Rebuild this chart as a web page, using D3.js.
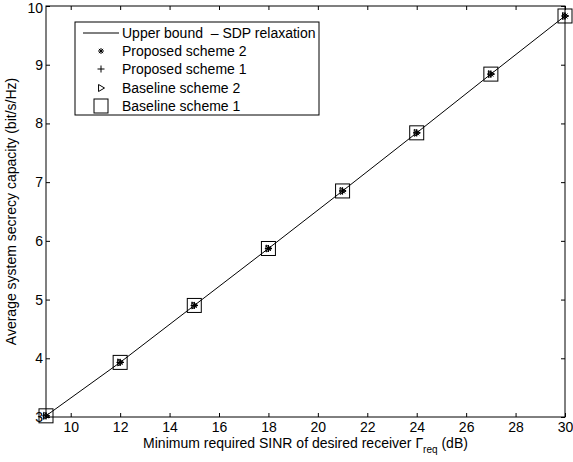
<!DOCTYPE html>
<html lang="en">
<head>
	<meta charset="UTF-8">
	<title>secrecy capacity</title>
	<script src="https://cdn.jsdelivr.net/npm/d3@7/dist/d3.min.js"></script>
	<style>
		body { margin: 0; background: #fff; }
		text { font-family: "Liberation Sans", Arial, sans-serif; font-size: 14px; fill: #000; white-space: pre; }
	</style>
</head>
<body>
	<script>
	// SINR requirement (dB) and capacity values
	var sinr = [9, 12, 15, 18, 21, 24, 27, 30];
	var upperBound = [3.02, 3.93, 4.90, 5.87, 6.85, 7.84, 8.84, 9.83];
	var proposed2 = [3.02, 3.93, 4.90, 5.87, 6.85, 7.84, 8.84, 9.83];
	var proposed1 = [3.02, 3.93, 4.90, 5.87, 6.85, 7.84, 8.84, 9.83];
	var baseline2 = [3.02, 3.93, 4.90, 5.87, 6.85, 7.84, 8.84, 9.83];
	var baseline1 = [3.02, 3.93, 4.90, 5.87, 6.85, 7.84, 8.84, 9.83];
	var xTicks = [10, 12, 14, 16, 18, 20, 22, 24, 26, 28, 30];
	var yTicks = [3, 4, 5, 6, 7, 8, 9, 10];
	var legendLabels = ['Upper bound  \u2013 SDP relaxation', 'Proposed scheme 2', 'Proposed scheme 1', 'Baseline scheme 2', 'Baseline scheme 1'];

	var width = 573,
		height = 462;

	var plot = { left: 46, right: 565, top: 6, bottom: 417 };

	var svg = d3.select('body').append('svg')
		.attr('width', width)
		.attr('height', height);

	var xScale = d3.scaleLinear().domain([9, 30]).range([plot.left, plot.right]);
	var yScale = d3.scaleLinear().domain([3, 10]).range([plot.bottom, plot.top]);

	// axes, ticks pointing inward like matlab
	function drawAxes() {
		var tl = 4;
		svg.append('g')
			.attr('transform', `translate(0,${plot.bottom})`)
			.call(d3.axisBottom(xScale).tickValues(xTicks).tickFormat(d3.format('d')).tickSizeInner(-tl).tickSizeOuter(0).tickPadding(5));
		svg.append('g')
			.attr('transform', `translate(0,${plot.top})`)
			.call(d3.axisTop(xScale).tickValues(xTicks).tickSizeInner(-tl).tickSizeOuter(0).tickFormat(''));
		var yAx = svg.append('g')
			.attr('transform', `translate(${plot.left},0)`)
			.call(d3.axisLeft(yScale).tickValues(yTicks).tickFormat(d3.format('d')).tickSizeInner(-tl).tickSizeOuter(0).tickPadding(3));
		svg.append('g')
			.attr('transform', `translate(${plot.right},0)`)
			.call(d3.axisRight(yScale).tickValues(yTicks).tickSizeInner(-tl).tickSizeOuter(0).tickFormat(''));

		svg.selectAll('.domain').remove();
		svg.selectAll('.tick line').attr('stroke', '#000');
		svg.selectAll('.tick text')
			.style('font-family', '"Liberation Sans", Arial, sans-serif')
			.style('font-size', '14px')
			.attr('fill', '#000');
		// keep the top label inside the page
		yAx.selectAll('.tick text').filter(d => d === 10).attr('dy', '0.46em');

		svg.append('rect')
			.attr('x', plot.left).attr('y', plot.top)
			.attr('width', plot.right - plot.left)
			.attr('height', plot.bottom - plot.top)
			.attr('fill', 'none').attr('stroke', '#000').attr('stroke-width', 1);

		var xl = svg.append('text')
			.attr('x', (plot.left + plot.right) / 2)
			.attr('y', 448)
			.attr('text-anchor', 'middle');
		xl.append('tspan').text('Minimum required SINR of desired receiver \u0393');
		xl.append('tspan').attr('dy', 5).style('font-size', '10px').text('req');
		xl.append('tspan').attr('dy', -5).text(' (dB)');

		svg.append('text')
			.attr('transform', `translate(16,${(plot.top + plot.bottom) / 2}) rotate(-90)`)
			.attr('text-anchor', 'middle')
			.text('Average system secrecy capacity (bit/s/Hz)');
	}

	function star(g, s) {
		var p = '';
		for (var a = 0; a < 4; a++) {
			var ang = a * Math.PI / 4;
			p += `M${-s * Math.cos(ang)},${-s * Math.sin(ang)}L${s * Math.cos(ang)},${s * Math.sin(ang)}`;
		}
		g.append('path').attr('d', p).attr('stroke', '#000').attr('fill', 'none');
	}
	function plus(g, s) {
		g.append('path').attr('d', `M${-s},0L${s},0M0,${-s}L0,${s}`).attr('stroke', '#000').attr('fill', 'none');
	}
	function tri(g, s) {
		g.append('path').attr('d', `M${-s * 0.7},${-s}L${s},0L${-s * 0.7},${s}Z`).attr('stroke', '#000').attr('fill', 'none');
	}
	function square(g, s) {
		g.append('rect').attr('x', -s).attr('y', -s).attr('width', 2 * s).attr('height', 2 * s)
			.attr('stroke', '#000').attr('fill', 'none');
	}

	function drawData() {
		var line = d3.line()
			.x((d, i) => xScale(sinr[i]))
			.y(d => yScale(d));
		svg.append('path')
			.datum(upperBound)
			.attr('d', line)
			.attr('fill', 'none')
			.attr('stroke', '#000')
			.attr('stroke-width', 1);

		var series = [[proposed2, star, 3.5], [proposed1, plus, 3.5], [baseline2, tri, 3.5], [baseline1, square, 7]];
		series.forEach(function (s) {
			s[0].forEach(function (v, i) {
				var g = svg.append('g').attr('transform', `translate(${xScale(sinr[i])},${yScale(v)})`);
				s[1](g, s[2]);
			});
		});
	}

	function drawLegend() {
		var lg = svg.append('g');
		lg.append('rect')
			.attr('x', 75).attr('y', 22).attr('width', 244).attr('height', 93)
			.attr('fill', '#fff').attr('stroke', '#000');
		var rowY = [33, 51, 69, 88, 106];
		var sym = [null, star, plus, tri, square];
		var sz = [0, 3, 3.5, 3.5, 7];
		legendLabels.forEach(function (lab, i) {
			if (i === 0) {
				lg.append('line').attr('x1', 83).attr('x2', 119)
					.attr('y1', rowY[i]).attr('y2', rowY[i]).attr('stroke', '#000');
			} else {
				var g = lg.append('g').attr('transform', `translate(101,${rowY[i]})`);
				sym[i](g, sz[i]);
			}
			lg.append('text').attr('x', 122).attr('y', rowY[i] + 5).text(lab);
		});
	}

	drawAxes();
	drawData();
	drawLegend();
	</script>
</body>
</html>
